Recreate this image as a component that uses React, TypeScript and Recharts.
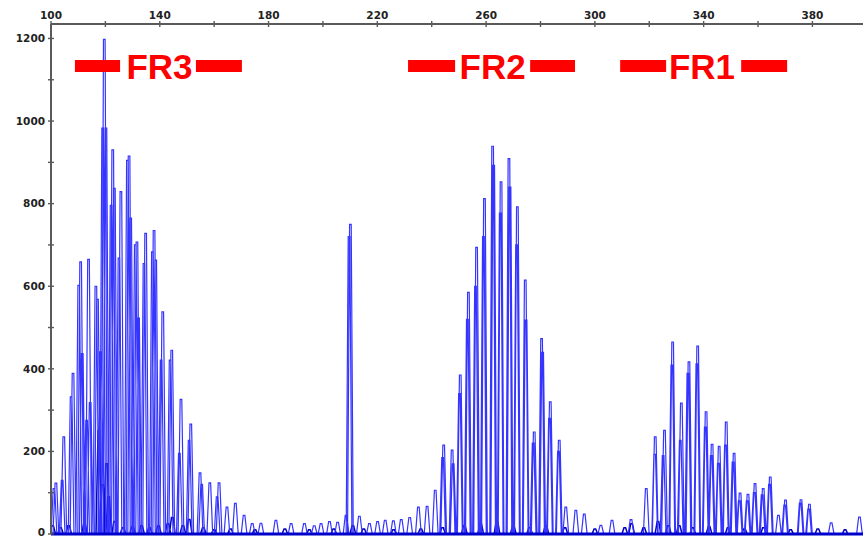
import React from "react";
import { LineChart, Line, XAxis, YAxis, ReferenceLine, ReferenceDot } from "recharts";

// ---- data (fragment size in bp, fluorescence height) ----
const fr3Peaks: [number, number][] = [
  [101.8, 123], [104.7, 235], [108.1, 389], [110.9, 659], [113.8, 665], [116.5, 600],
  [118.3, 441], [119.6, 1198], [122.7, 930], [125.7, 829], [128.7, 915], [131.6, 707],
  [134.8, 728], [137.9, 735], [141.1, 538], [144.4, 445], [147.8, 326], [151.4, 266],
  [154.8, 148], [158.4, 124], [161.8, 124], [164.7, 65], [167.8, 74], [171.0, 45],
  [174.0, 25], [177.2, 26], [182.7, 33],
];
const fr3Shoulders: [number, number][] = [
  [101.1, 110], [104.1, 130], [107.4, 332], [110.2, 602], [111.5, 437], [113.1, 275],
  [114.4, 318], [117.1, 568], [120.2, 983], [119.0, 983], [122.1, 796], [123.3, 837],
  [125.0, 668], [128.1, 905], [129.3, 765], [131.0, 700], [132.2, 523], [134.2, 655],
  [137.3, 683], [138.5, 663], [140.5, 421], [143.8, 421], [147.2, 195], [150.8, 227],
  [155.4, 120], [161.1, 90],
];
const midPeaks: [number, number][] = [
  [188.3, 25], [193.2, 25], [196.8, 20], [199.3, 25], [202.4, 30], [205.4, 28],
  [208.5, 45], [209.6, 720], [210.1, 750], [213.4, 43], [217.1, 25], [220.1, 30],
  [222.9, 33], [225.9, 32], [228.8, 35],
];
const fr2Peaks: [number, number][] = [
  [231.9, 40], [235.1, 65], [238.3, 67], [241.3, 106], [244.4, 215], [247.5, 203],
  [250.5, 385], [253.5, 585], [256.5, 694], [259.4, 812], [262.4, 939], [265.5, 853],
  [268.4, 909], [271.5, 792], [274.4, 615], [277.7, 247], [280.4, 473], [283.6, 320],
  [286.9, 227], [289.3, 65], [293.0, 57], [296.1, 48],
];
const fr2Shoulders: [number, number][] = [
  [244.0, 185], [247.9, 170], [250.2, 340], [253.1, 520], [256.1, 600], [259.0, 720],
  [262.8, 893], [265.2, 777], [268.8, 840], [271.2, 700], [274.7, 518], [277.3, 220],
  [280.8, 440], [283.3, 280], [286.6, 200],
];
const fr1Peaks: [number, number][] = [
  [302.2, 21], [306.3, 33], [313.3, 35], [318.9, 110], [322.2, 235], [325.6, 251],
  [328.6, 465], [331.8, 317], [334.6, 417], [337.8, 455], [340.9, 296], [343.1, 217],
  [345.7, 212], [348.3, 271], [351.2, 195], [353.4, 99], [356.3, 96], [358.9, 122],
  [361.9, 110], [364.5, 138], [367.5, 45], [370.1, 82], [375.8, 83], [378.9, 72],
  [386.9, 27], [397.3, 41],
];
const fr1Shoulders: [number, number][] = [
  [322.0, 193], [325.1, 190], [328.3, 409], [331.4, 227], [334.2, 389], [337.5, 412],
  [340.6, 259], [342.8, 190], [345.4, 171], [348.0, 215], [350.8, 174], [353.1, 80],
  [356.0, 80], [358.6, 100], [361.5, 95], [364.2, 120], [369.8, 70], [375.5, 75],
  [378.6, 60],
];
const noisePeaks: [number, number][] = [
  [100.6, 20], [103.5, 15], [106.5, 20], [112.3, 25], [117.6, 250], [118.9, 120],
  [120.4, 170], [121.2, 90], [123.4, 30], [126.5, 15], [130.0, 18], [133.3, 20],
  [136.2, 15], [139.5, 20], [143.0, 25], [144.6, 40], [148.5, 20], [150.8, 35],
  [156.0, 15], [160.0, 10], [166.0, 12], [175.0, 10], [186.0, 12], [195.0, 10],
  [204.0, 12], [211.0, 20], [215.0, 12], [226.0, 10], [236.0, 12], [244.0, 15],
  [252.0, 20], [258.0, 25], [264.0, 30], [270.0, 20], [276.0, 15], [282.0, 20],
  [289.0, 15], [300.0, 12], [311.0, 15], [313.5, 25], [318.0, 15], [323.2, 30],
  [327.0, 20], [331.0, 20], [336.0, 15], [342.0, 18], [349.0, 15], [355.0, 12],
  [362.0, 15], [372.0, 10], [382.0, 12], [392.0, 10],
];

const xTicks = [100, 120, 140, 160, 180, 200, 220, 240, 260, 280, 300, 320, 340, 360, 380];
const xLabels = [100, 140, 180, 220, 260, 300, 340, 380];
const yTicks = [0, 100, 200, 300, 400, 500, 600, 700, 800, 900, 1000, 1100, 1200];
const yLabels = [0, 200, 400, 600, 800, 1000, 1200];

const regionNames = ["FR3", "FR2", "FR1"];
const regionCenters = [139.9, 262.4, 339.4];
const regionLeftBars: [number, number][] = [[108.8, 125.4], [231.3, 248.6], [309.3, 326.2]];
const regionRightBars: [number, number][] = [[153.3, 170.2], [276.2, 292.7], [353.8, 370.7]];
const regionLevel = 1133;

// ---- peak outline construction (shape only) ----
const BASE = 1.05;
const TOP = 0.3;
function toTrace(peaks: [number, number][]) {
  const sorted = [...peaks].sort((a, b) => a[0] - b[0]);
  return sorted.flatMap(([bp, h]) => [
    { bp: bp - BASE, v: 0 },
    { bp: bp - TOP, v: h },
    { bp: bp + TOP, v: h },
    { bp: bp + BASE, v: 0 },
  ]);
}
const mainTrace = toTrace([
  ...fr3Peaks, ...fr3Shoulders, ...midPeaks, ...fr2Peaks, ...fr2Shoulders, ...fr1Peaks, ...fr1Shoulders,
]);
const noiseTrace = toTrace(noisePeaks);

const TICK_FONT = "'DejaVu Sans', Verdana, sans-serif";
const AXIS_COLOR = "#5a5a5a";

const XTick = (props: any) => {
  const { x, y, payload } = props;
  const axisY = y + 8; // tickSize 6 + tickMargin 2
  const show = xLabels.includes(payload.value);
  return (
    <g>
      <line x1={x} x2={x} y1={axisY - 3} y2={axisY + 3} stroke={AXIS_COLOR} strokeWidth={1.4} />
      {show && (
        <text x={x} y={axisY - 5.5} textAnchor="middle" fontFamily={TICK_FONT} fontWeight="bold" fontSize={10.5} fill="#222">
          {payload.value}
        </text>
      )}
    </g>
  );
};

const YTick = (props: any) => {
  const { x, y, payload } = props;
  const axisX = x + 6; // tickSize 6 + tickMargin 0
  const show = yLabels.includes(payload.value);
  const dy = payload.value === 0 ? 1.5 : 3.8;
  return (
    <g>
      <line x1={axisX - 3} x2={axisX + 3} y1={y} y2={y} stroke={AXIS_COLOR} strokeWidth={1.4} />
      {show && (
        <text x={axisX - 6} y={y + dy} textAnchor="end" fontFamily={TICK_FONT} fontWeight="bold" fontSize={10.5} fill="#222">
          {payload.value}
        </text>
      )}
    </g>
  );
};

export default function App() {
  return (
    <div style={{ position: "absolute", left: 0, top: 0, width: 863, height: 536, background: "#fff", overflow: "hidden" }}>
      <LineChart width={863} height={536} margin={{ top: 0, right: 0, bottom: 2, left: 0 }}>
        <XAxis
          dataKey="bp"
          type="number"
          orientation="top"
          domain={[100, 398.6]}
          allowDataOverflow
          ticks={xTicks}
          interval={0}
          height={24}
          tickSize={6}
          tickMargin={2}
          tickLine={false}
          tick={<XTick />}
          axisLine={{ stroke: AXIS_COLOR, strokeWidth: 2 }}
        />
        <YAxis
          type="number"
          domain={[0, 1235]}
          allowDataOverflow
          ticks={yTicks}
          interval={0}
          width={51}
          tickSize={6}
          tickMargin={0}
          tickLine={false}
          tick={<YTick />}
          axisLine={{ stroke: AXIS_COLOR, strokeWidth: 2 }}
        />
        <Line
          data={noiseTrace}
          dataKey="v"
          type="linear"
          stroke="#0000c0"
          strokeWidth={1.5}
          dot={false}
          activeDot={false}
          isAnimationActive={false}
        />
        <Line
          data={mainTrace}
          dataKey="v"
          type="linear"
          stroke="#3535ff"
          strokeWidth={1.2}
          dot={false}
          activeDot={false}
          isAnimationActive={false}
        />
        <ReferenceLine y={0} stroke="#0000cc" strokeWidth={3} />
        {regionNames.map((name, i) => (
          <ReferenceLine
            key={name + "l"}
            segment={[{ x: regionLeftBars[i][0], y: regionLevel }, { x: regionLeftBars[i][1], y: regionLevel }]}
            stroke="#ff0000"
            strokeWidth={12}
          />
        ))}
        {regionNames.map((name, i) => (
          <ReferenceLine
            key={name + "r"}
            segment={[{ x: regionRightBars[i][0], y: regionLevel }, { x: regionRightBars[i][1], y: regionLevel }]}
            stroke="#ff0000"
            strokeWidth={12}
          />
        ))}
        {regionNames.map((name, i) => (
          <ReferenceDot
            key={name}
            x={regionCenters[i]}
            y={regionLevel}
            r={1}
            fill="none"
            stroke="none"
            label={{
              value: name,
              position: "center",
              fill: "#ff0000",
              fontSize: 35,
              fontWeight: "bold",
              fontFamily: "'Liberation Sans', Arial, sans-serif",
            }}
          />
        ))}
      </LineChart>
    </div>
  );
}
